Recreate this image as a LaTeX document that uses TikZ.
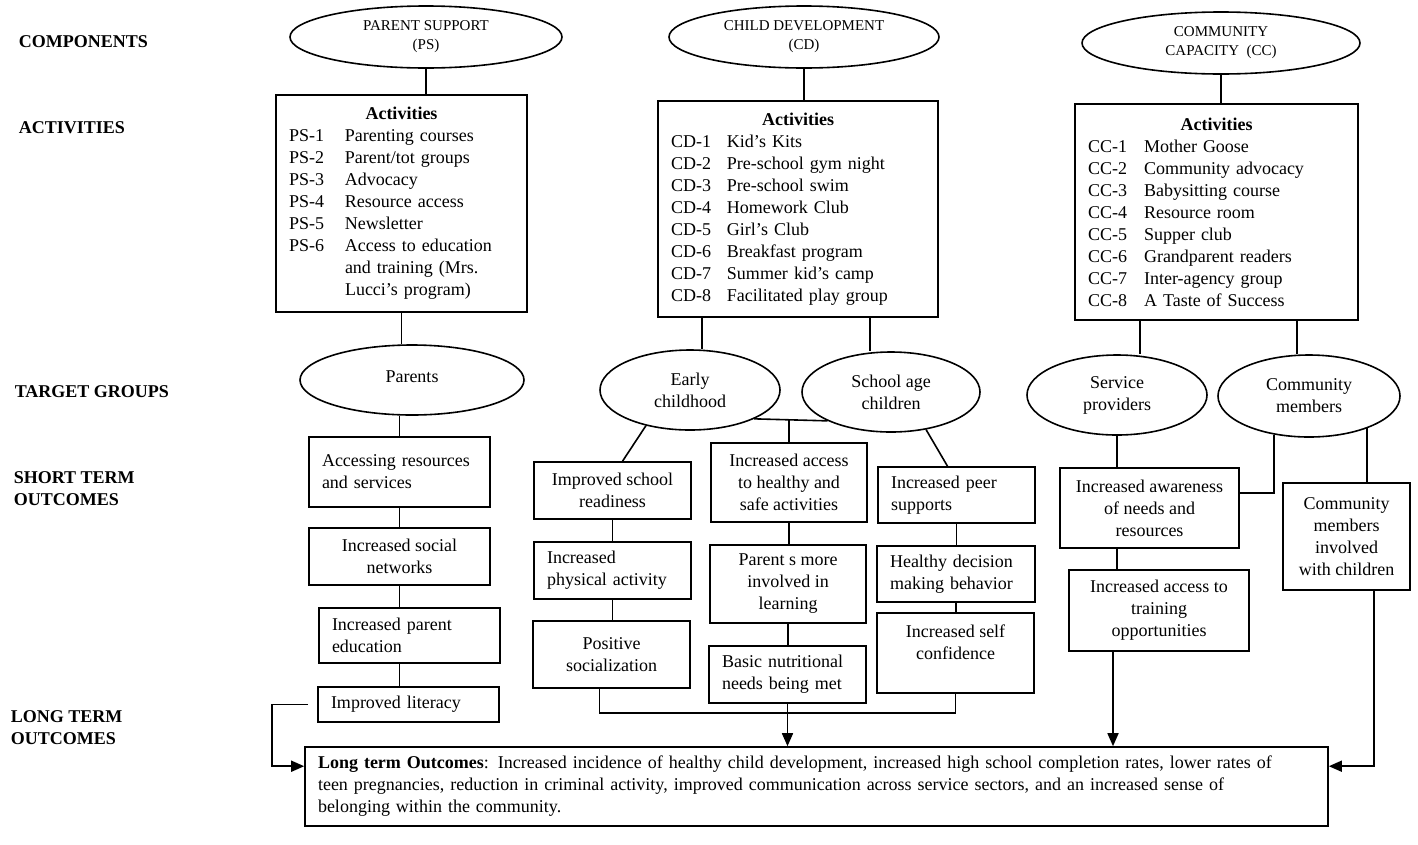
\documentclass[tikz,border=0pt]{standalone}
\usepackage{fontspec}
\setmainfont{Liberation Serif}
\usetikzlibrary{shapes.geometric,arrows.meta}

\newcommand\mybox[7]{%
  \pgfmathsetmacro\bxw{#4-#2}\pgfmathsetmacro\bxh{#5-#3}%
  \pgfmathsetmacro\bxcx{(#2+#4)/2}\pgfmathsetmacro\bxcy{(#3+#5)/2}%
  \pgfmathsetmacro\bxtw{#4-#2-26}%
  \node[box,#6,minimum width=\bxw pt,minimum height=\bxh pt] (#1) at (\bxcx,\bxcy) {#7};}
\newcommand\myell[7]{%
  \pgfmathsetmacro\elw{2*#4}\pgfmathsetmacro\elh{2*#5}%
  \node[ell,#6,minimum width=\elw pt,minimum height=\elh pt] (#1) at (#2,#3) {#7};}
\newcommand\actlbl[1]{\makebox[56pt][l]{#1}}

\begin{document}
\begin{tikzpicture}[x=1pt,y=-1pt,line width=1.6pt,
  box/.style={draw,rectangle,inner sep=0pt,font=\fontsize{18}{22}\selectfont},
  cbox/.style={align=center},
  lbox/.style={align=left,inner xsep=13pt,text width=\bxtw pt},
  ell/.style={draw,ellipse,inner sep=0pt,align=center,font=\fontsize{18}{22}\selectfont},
  comp/.style={font=\fontsize{15}{19}\selectfont},
  lab/.style={anchor=west,align=left,inner sep=0pt,font=\fontsize{18}{22}\selectfont\bfseries},
  arr/.style={-{Triangle[length=13pt,width=11pt]}}]
\useasboundingbox (0,0) rectangle (1418,844);

% row labels
\node[lab] (lcomp) at (18,42) {COMPONENTS};
\node[lab] (lact) at (18,128) {ACTIVITIES};
\node[lab] (ltg) at (14,392) {TARGET GROUPS};
\node[lab] (lst) at (13,489) {SHORT TERM\\OUTCOMES};
\node[lab] (llt) at (10,728) {LONG TERM\\OUTCOMES};

% components
\myell{ps}{426}{37}{136}{31}{comp}{PARENT SUPPORT\\(PS)}
\myell{cd}{804}{37}{135}{31}{comp}{CHILD DEVELOPMENT\\(CD)}
\myell{cc}{1221}{43}{139}{31}{comp}{COMMUNITY\\CAPACITY\ \ (CC)}

% activities
\mybox{psbox}{276}{95}{527}{312}{lbox}{\makebox[\bxtw pt]{\textbf{Activities}}\\
\actlbl{PS-1}Parenting courses\\
\actlbl{PS-2}Parent/tot groups\\
\actlbl{PS-3}Advocacy\\
\actlbl{PS-4}Resource access\\
\actlbl{PS-5}Newsletter\\
\actlbl{PS-6}Access to education\\
\actlbl{}and training (Mrs.\\
\actlbl{}Lucci's program)}
\mybox{cdbox}{658}{101}{938}{317}{lbox}{\makebox[\bxtw pt]{\textbf{Activities}}\\
\actlbl{CD-1}Kid's Kits\\
\actlbl{CD-2}Pre-school gym night\\
\actlbl{CD-3}Pre-school swim\\
\actlbl{CD-4}Homework Club\\
\actlbl{CD-5}Girl's Club\\
\actlbl{CD-6}Breakfast program\\
\actlbl{CD-7}Summer kid's camp\\
\actlbl{CD-8}Facilitated play group}
\mybox{ccbox}{1075}{104}{1358}{320}{lbox}{\makebox[\bxtw pt]{\textbf{Activities}}\\
\actlbl{CC-1}Mother Goose\\
\actlbl{CC-2}Community advocacy\\
\actlbl{CC-3}Babysitting course\\
\actlbl{CC-4}Resource room\\
\actlbl{CC-5}Supper club\\
\actlbl{CC-6}Grandparent readers\\
\actlbl{CC-7}Inter-agency group\\
\actlbl{CC-8}A Taste of Success}

% target groups
\myell{parents}{412}{380}{112}{35}{}{\raisebox{7pt}{Parents}}
\myell{early}{690}{390}{90}{40}{}{Early\\childhood}
\myell{school}{891}{392}{89}{40}{}{School age\\children}
\myell{service}{1117}{395}{90}{40}{}{Service\\providers}
\myell{cm}{1309}{396}{91}{41}{}{Community\\members}

% short term outcomes
\mybox{accessing}{309}{437}{490}{507}{lbox}{Accessing resources\\and services}
\mybox{social}{309}{528}{490}{585}{cbox}{Increased social\\networks}
\mybox{paredu}{319}{608}{500}{663}{lbox}{Increased parent\\education}
\mybox{literacy}{318}{687}{499}{722}{lbox}{Improved literacy}
\mybox{improved}{534}{462}{691}{519}{cbox}{Improved school\\readiness}
\mybox{physical}{534}{542}{691}{599}{lbox}{Increased\\physical activity}
\mybox{positive}{533}{621}{690}{688}{cbox}{Positive\\socialization}
\mybox{access}{711}{443}{867}{522}{cbox}{Increased access\\to healthy and\\safe activities}
\mybox{parentsmore}{710}{545}{866}{623}{cbox}{Parent s more\\involved in\\learning}
\mybox{basic}{709}{646}{866}{703}{lbox}{Basic nutritional\\needs being met}
\mybox{peer}{878}{467}{1035}{523}{lbox}{Increased peer\\supports}
\mybox{healthy}{877}{546}{1035}{602}{lbox}{Healthy decision\\making behavior}
\mybox{selfc}{877}{613}{1034}{693}{cbox}{Increased self\\confidence\\\mbox{}}
\mybox{awareness}{1060}{468}{1239}{548}{cbox}{Increased awareness\\of needs and\\resources}
\mybox{training}{1069}{570}{1249}{651}{cbox}{Increased access to\\training\\opportunities}
\mybox{involved}{1283}{483}{1410}{590}{cbox}{Community\\members\\involved\\with children}

% long term
\mybox{longbox}{305}{747}{1328}{826}{lbox}{\textbf{Long term Outcomes}: Increased incidence of healthy child development, increased high school completion rates, lower rates of\\
teen pregnancies, reduction in criminal activity, improved communication across service sectors, and an increased sense of\\
belonging within the community.}

% connectors: parent support
\draw (ps.south) -- (ps.south |- psbox.north);
\draw (psbox.south) -- (psbox.south |- parents.north);
\draw (accessing.north |- parents.south) -- (accessing.north);
\draw (accessing.south) -- (social.north);
\draw (social.south) -- (social.south |- paredu.north);
\draw (social.south |- paredu.south) -- (social.south |- literacy.north);
\draw[arr] ([xshift=-9pt]literacy.west) -| ([xshift=-32pt,yshift=-20pt]longbox.north west) -- ([yshift=-20pt]longbox.north west);

% connectors: child development
\draw (cd.south) -- (cd.south |- cdbox.north);
\draw ([xshift=12pt]early.north |- cdbox.south) -- ([xshift=12pt]early.north);
\draw ([xshift=-21pt]school.north |- cdbox.south) -- ([xshift=-21pt]school.north);
\draw (early.south east) -- (school.south west);
\draw (access.north) -- (access.north |- early.south east);
\draw (early.-141) -- ([xshift=10pt]improved.north);
\draw (school.-47) -- ([xshift=-9pt]peer.north);
\draw (improved.south) -- (physical.north);
\draw (physical.south) -- (physical.south |- positive.north);
\draw (access.south) -- (access.south |- parentsmore.north);
\draw (parentsmore.south) -- (parentsmore.south |- basic.north);
\draw (peer.south) -- (peer.south |- healthy.north);
\draw (healthy.south) -- (healthy.south |- selfc.north);
\coordinate (bus) at (787,713);
\draw ([xshift=-12pt]positive.south) |- (bus) -| (selfc.south);
\draw[arr] (basic.south) -- (basic.south |- longbox.north);

% connectors: community capacity
\draw (cc.south) -- (cc.south |- ccbox.north);
\draw ([xshift=23pt]service.north |- ccbox.south) -- ([xshift=23pt]service.north);
\draw ([xshift=-12pt]cm.north |- ccbox.south) -- ([xshift=-12pt]cm.north);
\draw (service.south) -- (service.south |- awareness.north);
\draw (cm.-132) |- ([yshift=15pt]awareness.east);
\draw (cm.-29) -- (cm.-29 |- involved.north);
\draw (service.south |- awareness.south) -- (service.south |- training.north);
\draw[arr] ([xshift=-46pt]training.south) -- ([xshift=-46pt]training.south |- longbox.north);
\draw[arr] ([xshift=27.5pt]involved.south) |- ([yshift=-20pt]longbox.north east);
\end{tikzpicture}
\end{document}
